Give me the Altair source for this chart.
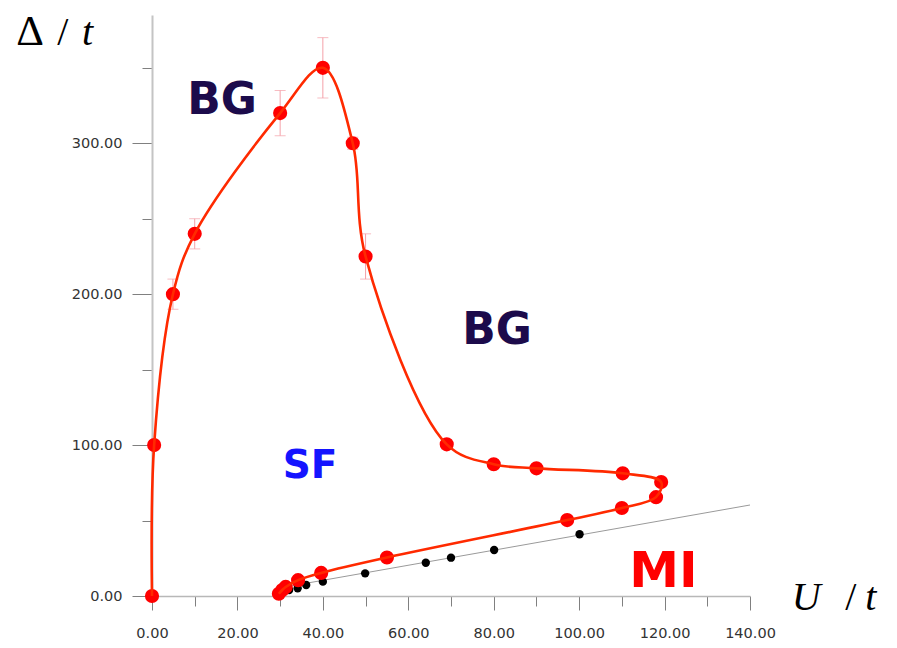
import altair as alt
import pandas as pd

# Phase boundary (red curve + markers), in drawing order
curve_x = [0.0, 0.5, 4.9, 10.0, 30.0, 40.0, 47.0, 50.0, 69.0, 80.0, 90.0, 110.2, 119.2,
           118.0, 110.0, 97.2, 55.0, 39.6, 34.2, 31.3, 30.5, 29.7]
curve_y = [0.0, 100.0, 200.0, 240.0, 320.0, 350.0, 300.0, 225.0, 100.5, 87.3, 84.6, 81.3, 75.5,
           65.5, 58.3, 50.3, 25.5, 15.3, 10.5, 6.0, 4.0, 1.5]

# Error bars
err_x = [4.9, 10.0, 30.0, 40.0, 47.0, 50.0, 69.0]
err_y = [200.0, 240.0, 320.0, 350.0, 300.0, 225.0, 100.5]
err_e = [10.0, 10.0, 15.0, 20.0, 4.0, 15.0, 3.0]

# Black points and gray reference line
black_x = [32.1, 34.1, 36.1, 40.0, 49.9, 64.1, 70.0, 80.1, 100.1]
black_y = [4.0, 5.1, 7.3, 9.5, 15.0, 22.0, 25.4, 30.5, 40.9]
fit_x = [30.0, 140.0]
fit_y = [5.4, 60.3]

# Region labels
reg_text = ["BG", "BG", "SF", "MI"]
reg_x = [16.4, 80.8, 37.0, 119.75]
reg_y = [319.4, 167.0, 78.2, 6.0]
reg_color = ["#1c0b4b", "#1c0b4b", "#1414ff", "#ff0000"]
reg_size = [44, 44, 39, 50]

# Axis-title pieces (text, x, y, italic, size)
ttl_text = ["Δ", "/", "t", "U", "/", "t"]
ttl_x = [-31.8, -22.2, -16.4, 149.8, 162.3, 167.0]
ttl_y = [365.1, 365.1, 365.1, -9.3, -9.3, -9.3]
ttl_italic = [False, False, True, True, False, True]
ttl_size = [43, 40, 40, 40, 40, 40]

curve = pd.DataFrame({"x": curve_x, "y": curve_y, "i": list(range(len(curve_x)))})
errs = pd.DataFrame({"x": err_x, "lo": [y - e for y, e in zip(err_y, err_e)],
                     "hi": [y + e for y, e in zip(err_y, err_e)]})
blacks = pd.DataFrame({"x": black_x, "y": black_y})
fit = pd.DataFrame({"x": fit_x, "y": fit_y})
regions = pd.DataFrame({"t": reg_text, "x": reg_x, "y": reg_y, "c": reg_color, "s": reg_size})
titles = pd.DataFrame({"t": ttl_text, "x": ttl_x, "y": ttl_y, "it": ttl_italic, "s": ttl_size})

xs = alt.Scale(domain=[0, 140], nice=False, zero=False)
ys = alt.Scale(domain=[0, 385], nice=False, zero=False)

x_axis = alt.Axis(
    values=list(range(0, 141, 10)), title=None, grid=False, labelFlush=False,
    labelExpr="datum.value % 20 === 0 ? format(datum.value, '.2f') : ''",
    tickSize={"condition": {"test": "datum.value % 20 === 0", "value": 14}, "value": 10},
    labelPadding=16, labelFont="DejaVu Sans", labelFontSize=14.5, labelColor="#333333",
    domainColor="#b8b8b8", domainWidth=1.5, tickColor="#808080", tickWidth=1,
)
y_axis = alt.Axis(
    values=list(range(0, 351, 50)), title=None, grid=False, labelFlush=False,
    labelExpr="datum.value % 100 === 0 ? format(datum.value, '.2f') : ''",
    tickSize={"condition": {"test": "datum.value % 100 === 0", "value": 20}, "value": 10},
    labelPadding=10, labelFont="DejaVu Sans", labelFontSize=14.5, labelColor="#333333",
    domainColor="#c4c4c4", domainWidth=2, tickColor="#808080", tickWidth=1,
)

X = alt.X("x:Q", scale=xs, axis=x_axis)
Y = alt.Y("y:Q", scale=ys, axis=y_axis)

fit_line = alt.Chart(fit).mark_line(color="#9a9a9a", strokeWidth=1).encode(x=X, y=Y)
black_pts = alt.Chart(blacks).mark_circle(color="#000000", size=70, opacity=1).encode(x=X, y=Y)

err_rule = alt.Chart(errs).mark_rule(color="#f4a0a8", strokeWidth=1).encode(
    x=alt.X("x:Q", scale=xs), y=alt.Y("lo:Q", scale=ys), y2="hi:Q")
err_lo = alt.Chart(errs).mark_tick(color="#f4a0a8", orient="horizontal", size=11, thickness=1).encode(
    x=alt.X("x:Q", scale=xs), y=alt.Y("lo:Q", scale=ys))
err_hi = alt.Chart(errs).mark_tick(color="#f4a0a8", orient="horizontal", size=11, thickness=1).encode(
    x=alt.X("x:Q", scale=xs), y=alt.Y("hi:Q", scale=ys))

red_pts = alt.Chart(curve).mark_circle(color="#ff0000", size=200, opacity=1).encode(x=X, y=Y)
red_line = alt.Chart(curve).mark_line(color="#ff2a00", strokeWidth=2.6, interpolate="catmull-rom").encode(
    x=X, y=Y, order="i:Q")

reg_labels = alt.Chart(regions).mark_text(
    font="DejaVu Sans", fontWeight="bold", align="center", baseline="alphabetic"
).encode(
    x=alt.X("x:Q", scale=xs), y=alt.Y("y:Q", scale=ys), text="t:N",
    color=alt.Color("c:N", scale=None), size=alt.Size("s:Q", scale=None),
)

title_base = alt.Chart(titles).encode(
    x=alt.X("x:Q", scale=xs), y=alt.Y("y:Q", scale=ys), text="t:N",
    size=alt.Size("s:Q", scale=None))
title_up = title_base.transform_filter("!datum.it").mark_text(
    font="Liberation Serif", align="left", baseline="alphabetic", color="#000000")
title_it = title_base.transform_filter("datum.it").mark_text(
    font="Liberation Serif", fontStyle="italic", align="left", baseline="alphabetic",
    color="#000000")

chart = alt.layer(
    fit_line, black_pts, err_rule, err_lo, err_hi, red_pts, red_line,
    reg_labels, title_up, title_it,
).properties(
    width=598, height=581,
    autosize=alt.AutoSizeParams(type="none"),
    padding={"left": 144, "top": 7, "right": 139, "bottom": 44},
).configure_view(stroke=None)

chart.save("out.html", embed_options={"renderer": "svg", "actions": False})
